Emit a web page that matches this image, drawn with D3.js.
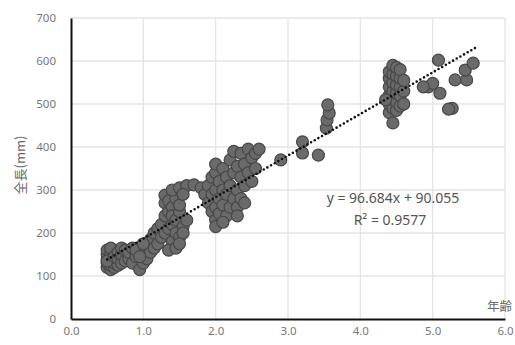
<!DOCTYPE html>
<html>
<head>
<meta charset="utf-8">
<script src="https://cdn.jsdelivr.net/npm/d3@7"></script>
<style>
  body { margin: 0; background: #fff; }
  text { font-family: "Noto Sans", "Noto Sans CJK JP", sans-serif; }
</style>
</head>
<body>
<svg id="chart" width="515" height="345"></svg>
<script>
// age (years) and total length (mm)
const ages = [
  0.5, 0.5, 0.5, 0.5, 0.5, 0.55, 0.55, 0.55, 0.55, 0.55, 0.6, 0.6, 0.6, 0.6, 0.6, 0.5, 0.55, 0.6,
  0.65, 0.65, 0.65, 0.7, 0.7, 0.7, 0.75, 0.75, 0.8, 0.8, 0.85, 0.85, 0.9, 0.9,
  0.95, 1.0, 1.0, 1.05, 1.05, 1.1, 1.1, 1.15, 1.15, 1.2, 1.2, 0.95, 1.0,
  1.25, 1.25, 1.3, 1.3, 1.3, 1.3, 1.35, 1.35, 1.35, 1.4, 1.4, 1.4, 1.4, 1.45, 1.45, 1.45,
  1.5, 1.5, 1.5, 1.55, 1.55, 1.6, 1.35, 1.45, 1.5,
  1.4, 1.5, 1.6, 1.7, 1.8, 1.55,
  1.85, 1.9, 1.9, 1.95, 1.95, 1.95, 2.0, 2.0, 2.0, 2.0, 2.0, 2.05, 2.05, 2.05, 2.1, 2.1, 2.1,
  2.15, 2.15, 2.15, 2.2, 2.2, 2.2, 2.25, 2.25, 2.25, 2.3, 2.3, 2.3, 2.35, 2.35, 2.35,
  2.4, 2.4, 2.4, 2.45, 2.45, 2.5, 2.5, 2.55, 2.55, 2.6, 2.0, 2.1, 2.3,
  2.9, 3.2, 3.2, 3.42, 3.53, 3.54, 3.57, 3.55,
  4.4, 4.4, 4.4, 4.4, 4.4, 4.4, 4.45, 4.45, 4.45, 4.45, 4.45, 4.45, 4.5, 4.5, 4.5, 4.5, 4.5, 4.5,
  4.55, 4.55, 4.55, 4.55, 4.55, 4.6, 4.6, 4.6, 4.35, 4.45,
  5.08, 4.94, 5.1, 5.27, 5.22, 5.31, 5.47, 5.45, 5.56, 5.0, 4.87
];
const lengths = [
  120, 130, 140, 150, 160, 115, 125, 135, 145, 155, 120, 130, 140, 150, 160, 135, 165, 145,
  125, 140, 155, 130, 150, 165, 135, 160, 140, 155, 130, 165, 145, 160,
  115, 130, 150, 140, 170, 155, 185, 165, 200, 175, 210, 145, 175,
  190, 220, 200, 240, 270, 288, 210, 250, 275, 180, 220, 260, 240, 200, 280, 230,
  190, 250, 265, 215, 200, 230, 160, 165, 175,
  300, 305, 310, 312, 305, 290,
  290, 270, 310, 250, 290, 330, 230, 260, 300, 340, 360, 245, 280, 320, 265, 300, 350,
  240, 290, 330, 260, 310, 370, 280, 340, 390, 300, 260, 355, 330, 385, 280,
  310, 360, 270, 340, 395, 320, 375, 385, 350, 395, 215, 225, 240,
  370, 412, 386, 381, 444, 463, 479, 498,
  480, 500, 520, 540, 560, 575, 490, 510, 530, 550, 570, 590, 485, 505, 525, 545, 565, 585,
  495, 520, 540, 560, 580, 500, 530, 555, 510, 456,
  602, 540, 525, 490, 488, 556, 556, 579, 595, 548, 540
];
const xTicks = [0, 1, 2, 3, 4, 5, 6];
const yTicks = [0, 100, 200, 300, 400, 500, 600, 700];
const slope = 96.684;
const intercept = 90.055;
const trendRange = [0.5, 5.6];
const eqLines = ['y = 96.684x + 90.055', 'R\u00b2 = 0.9577'];

const svg = d3.select('#chart');
const plotLeft = 71, plotRight = 505, plotTop = 18, plotBottom = 319;

const x = d3.scaleLinear().domain([0, 6]).range([plotLeft, plotRight]);
const y = d3.scaleLinear().domain([0, 700]).range([plotBottom, plotTop]);

// gridlines
svg.append('g')
  .selectAll('line')
  .data(xTicks.slice(1))
  .enter()
  .append('line')
  .attr('x1', d => x(d)).attr('x2', d => x(d))
  .attr('y1', plotTop).attr('y2', plotBottom)
  .attr('stroke', '#e4e4e4').attr('stroke-width', 1.3);

svg.append('g')
  .selectAll('line')
  .data(yTicks.slice(1))
  .enter()
  .append('line')
  .attr('x1', plotLeft).attr('x2', plotRight)
  .attr('y1', d => y(d)).attr('y2', d => y(d))
  .attr('stroke', '#e4e4e4').attr('stroke-width', 1.3);

// axes
const xAxis = d3.axisBottom(x).tickValues(xTicks).tickSize(0).tickPadding(8)
  .tickFormat(d3.format('.1f'));
const yAxis = d3.axisLeft(y).tickValues(yTicks).tickSize(0).tickPadding(15);

const gx = svg.append('g').attr('transform', `translate(0,${plotBottom})`).call(xAxis);
const gy = svg.append('g').attr('transform', `translate(${plotLeft},0)`).call(yAxis);
[gx, gy].forEach(g => {
  g.select('.domain').attr('stroke', '#111').attr('stroke-width', 2);
  g.selectAll('text').attr('fill', '#777').style('font-size', '11.5px')
    .style('font-family', '"Noto Sans", sans-serif');
});

// points
const pts = ages.map((a, i) => ({ a: a, l: lengths[i] }));
svg.append('g')
  .selectAll('circle')
  .data(pts)
  .enter()
  .append('circle')
  .attr('cx', d => x(d.a))
  .attr('cy', d => y(d.l))
  .attr('r', 6)
  .attr('fill', '#6a6a6a')
  .attr('stroke', '#484848')
  .attr('stroke-width', 1.2);

// trendline
svg.append('line')
  .attr('x1', x(trendRange[0])).attr('y1', y(slope * trendRange[0] + intercept))
  .attr('x2', x(trendRange[1])).attr('y2', y(slope * trendRange[1] + intercept))
  .attr('stroke', '#111')
  .attr('stroke-width', 2.6)
  .attr('stroke-linecap', 'round')
  .attr('stroke-dasharray', '0,4.2');

// equation
svg.append('text').attr('x', 393).attr('y', 203).attr('text-anchor', 'middle')
  .attr('fill', '#555').style('font-size', '14px').text(eqLines[0]);
svg.append('text').attr('x', 390).attr('y', 225).attr('text-anchor', 'middle')
  .attr('fill', '#555').style('font-size', '14px').text(eqLines[1]);

// axis titles
svg.append('text')
  .attr('transform', 'translate(25,165) rotate(-90)')
  .attr('text-anchor', 'middle')
  .attr('fill', '#666')
  .style('font-size', '13px')
  .style('font-family', '"Noto Sans CJK JP", sans-serif')
  .text('全長(mm)');
svg.append('text')
  .attr('x', 487).attr('y', 311)
  .attr('fill', '#666')
  .style('font-size', '12.5px')
  .style('font-family', '"Noto Sans CJK JP", sans-serif')
  .text('年齢');
</script>
</body>
</html>
